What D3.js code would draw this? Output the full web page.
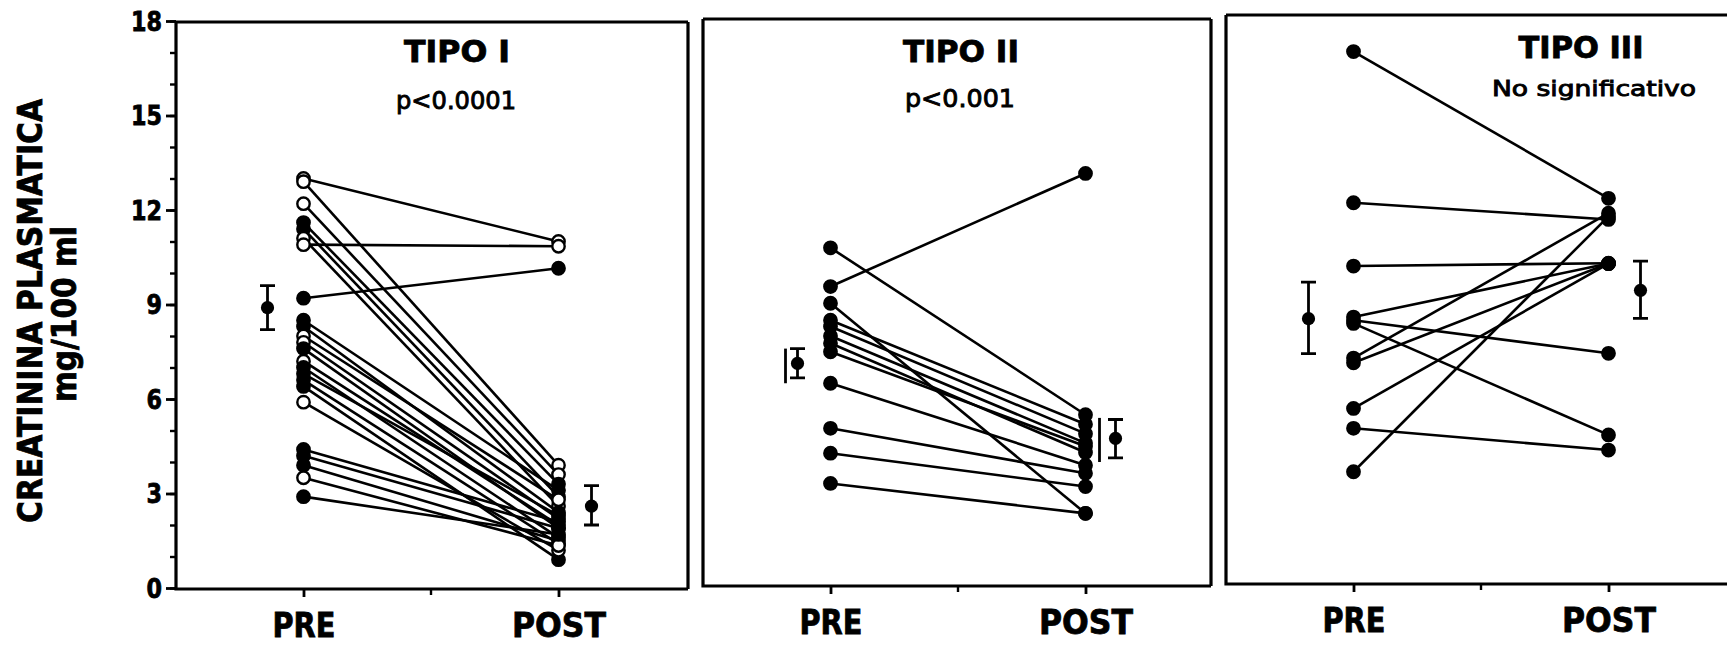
<!DOCTYPE html>
<html>
<head>
<meta charset="utf-8">
<script src="https://cdn.jsdelivr.net/npm/d3@7"></script>
<style>
  html, body { margin: 0; padding: 0; background: #fff; }
  svg { display: block; }
</style>
</head>
<body>
<svg id="chart" width="1727" height="645"></svg>
<script>
// ---------- data ----------
const categories = ["PRE", "POST"];
const yTicks = [0, 3, 6, 9, 12, 15, 18];
const panelTitles = ["TIPO I", "TIPO II", "TIPO III"];
const panelNotes = ["p<0.0001", "p<0.001", "No significativo"];
const yTitle = ["CREATININA PLASMATICA", "mg/100 ml"];

// Tipo I: paired values per patient, "o" = open marker, "f" = filled marker
const tipo1Pre  = [13.0, 12.9, 12.2, 11.6, 11.4, 11.1, 10.9, 9.2, 8.5, 8.3, 8.0, 7.8, 7.6, 7.2, 7.0, 6.8, 6.6, 6.4, 5.9, 4.4, 4.2, 3.9, 3.5, 2.9];
const tipo1Post = [11.0, 3.9, 3.6, 3.3, 2.9, 2.6, 10.85, 10.15, 3.1, 2.4, 2.8, 2.2, 1.9, 2.0, 1.6, 2.3, 1.4, 0.9, 1.2, 2.1, 1.9, 1.5, 1.35, 1.7];
const tipo1Kind = ["o", "o", "o", "f", "f", "o", "o", "f", "f", "f", "o", "o", "f", "o", "f", "f", "f", "f", "o", "f", "f", "f", "o", "f"];

// Tipo II
const tipo2Pre  = [10.8, 9.57, 9.04, 8.5, 8.3, 8.0, 7.77, 7.5, 6.5, 5.07, 4.28, 3.32];
const tipo2Post = [5.5, 13.16, 2.37, 5.2, 4.9, 4.6, 4.3, 4.5, 3.9, 3.64, 3.22, 2.37];

// Tipo III
const tipo3Pre  = [17.03, 12.23, 10.22, 8.6, 8.5, 8.4, 7.3, 7.15, 5.7, 5.07, 3.69];
const tipo3Post = [12.37, 11.7, 10.31, 10.3, 7.45, 4.86, 11.9, 10.3, 10.3, 4.38, 11.8];

// group means with error bars (one entry per panel)
const meanPre      = [8.9, 7.13, 8.55];
const meanPreLow   = [8.2, 6.67, 7.44];
const meanPreHigh  = [9.6, 7.6, 9.71];
const meanPost     = [2.6, 4.75, 9.45];
const meanPostLow  = [2.0, 4.13, 8.56];
const meanPostHigh = [3.25, 5.35, 10.38];

// Tipo II: range bars drawn beside the means
const tipo2RangePre  = [6.5, 7.6];
const tipo2RangePost = [4.0, 5.4];

// ---------- layout ----------
const svg = d3.select("#chart");
const FONT = "'DejaVu Sans', 'Liberation Sans', sans-serif";
const INK = 2.6;

const panels = [
  { left: 176, right: 688,  top: 22, bottom: 589, meanDx: [-36, 33], pre: tipo1Pre, post: tipo1Post, kind: tipo1Kind,
    titleY: 62, noteY: 109, titleW: 106, noteW: 120, titleX: 457, noteX: 456, noteSize: 24 },
  { left: 703, right: 1211, top: 19, bottom: 586, meanDx: [-33, 30], pre: tipo2Pre, post: tipo2Post, kind: null,
    titleY: 62, noteY: 107, titleW: 116, noteW: 110, titleX: 961, noteX: 960, noteSize: 24 },
  { left: 1226, right: 1740, top: 15, bottom: 584, meanDx: [-45, 32], pre: tipo3Pre, post: tipo3Post, kind: null,
    titleY: 58, noteY: 96, titleW: 125, noteW: 204, titleX: 1581, noteX: 1594, noteSize: 21 }
];

const y = d3.scaleLinear().domain([0, 18]).range([588, 21]);

function fit(sel, w) {
  return sel.attr("textLength", w).attr("lengthAdjust", "spacingAndGlyphs");
}
function heavy(sel, s) {
  return sel.attr("stroke", "#000").attr("stroke-width", s).attr("paint-order", "stroke");
}

// ---------- y axis (shared, drawn on the first panel) ----------
const yAxisG = svg.append("g").attr("transform", "translate(176,0)");
yAxisG.append("g")
  .call(d3.axisLeft(y).tickValues(d3.range(0, 19)).tickSize(6).tickSizeOuter(0).tickFormat(""))
  .call(g => g.select(".domain").remove())
  .selectAll("line").attr("stroke", "#000").attr("stroke-width", 2.4);
yAxisG.append("g")
  .call(d3.axisLeft(y).tickValues(yTicks).tickSize(10).tickPadding(4).tickSizeOuter(0))
  .call(g => g.select(".domain").remove())
  .call(g => g.selectAll("line").attr("stroke", "#000").attr("stroke-width", 2.8))
  .call(g => g.selectAll("text")
    .attr("font-family", FONT).attr("font-weight", "bold").attr("font-size", 26)
    .attr("fill", "#000").attr("dy", "0.36em")
    .call(heavy, 0.8)
    .each(function (d) { fit(d3.select(this), String(d).length * 15.5); }));

// y axis title
svg.append("text")
  .attr("transform", "translate(42,311) rotate(-90)")
  .attr("text-anchor", "middle").attr("font-family", FONT).attr("font-weight", "bold")
  .attr("font-size", 34).text(yTitle[0])
  .call(heavy, 0.8)
  .call(fit, 424);
svg.append("text")
  .attr("transform", "translate(76,314) rotate(-90)")
  .attr("text-anchor", "middle").attr("font-family", FONT).attr("font-weight", "bold")
  .attr("font-size", 33).text(yTitle[1])
  .call(heavy, 0.8)
  .call(fit, 176);

// ---------- panels ----------
panels.forEach((p, i) => {
  const g = svg.append("g");
  const x = d3.scalePoint().domain(categories).range([p.left, p.left + 510]).padding(0.5);

  // frame
  g.append("path")
    .attr("d", `M${p.left},${p.top}H${p.right}M${p.left},${p.top}V${p.bottom}H${p.right}` + (i < 2 ? `M${p.right},${p.top}V${p.bottom}` : ""))
    .attr("fill", "none").attr("stroke", "#000").attr("stroke-width", 3.2);

  // x axis ticks and labels
  const xAxis = g.append("g").attr("transform", `translate(0,${p.bottom})`)
    .call(d3.axisBottom(x).tickSize(8).tickPadding(17).tickSizeOuter(0));
  xAxis.select(".domain").remove();
  xAxis.selectAll("line").attr("stroke", "#000").attr("stroke-width", 2.8);
  xAxis.selectAll("text")
    .attr("font-family", FONT).attr("font-weight", "bold").attr("font-size", 33).attr("fill", "#000")
    .call(heavy, 0.8)
    .each(function (d) { fit(d3.select(this), d === "PRE" ? 63 : 94); });
  const mid = (x("PRE") + x("POST")) / 2;
  g.append("line").attr("x1", mid).attr("x2", mid).attr("y1", p.bottom).attr("y2", p.bottom + 6)
    .attr("stroke", "#000").attr("stroke-width", 2.4);

  // titles
  g.append("text").attr("x", p.titleX).attr("y", p.titleY).attr("text-anchor", "middle")
    .attr("font-family", FONT).attr("font-weight", "bold").attr("font-size", 30)
    .text(panelTitles[i]).call(heavy, 0.8).call(fit, p.titleW);
  g.append("text").attr("x", p.noteX).attr("y", p.noteY).attr("text-anchor", "middle")
    .attr("font-family", FONT).attr("font-size", p.noteSize)
    .text(panelNotes[i]).call(heavy, 0.9).call(fit, p.noteW);

  // paired lines
  const rows = p.pre.map((v, k) => ({ pre: v, post: p.post[k], kind: p.kind ? p.kind[k] : "f" }));
  const line = d3.line().x(d => x(d[0])).y(d => y(d[1]));
  g.append("g").selectAll("path").data(rows).join("path")
    .attr("d", d => line([["PRE", d.pre], ["POST", d.post]]))
    .attr("fill", "none").attr("stroke", "#000").attr("stroke-width", INK);

  // markers
  const pts = rows.flatMap(d => [{ c: "PRE", v: d.pre, kind: d.kind }, { c: "POST", v: d.post, kind: d.kind }]);
  g.append("g").selectAll("circle").data(pts).join("circle")
    .attr("cx", d => x(d.c)).attr("cy", d => y(d.v)).attr("r", 6.2)
    .attr("fill", d => d.kind === "o" ? "#fff" : "#000")
    .attr("stroke", "#000").attr("stroke-width", 2.4);

  // means with error bars
  const means = [
    { c: "PRE", dx: p.meanDx[0], m: meanPre[i], lo: meanPreLow[i], hi: meanPreHigh[i] },
    { c: "POST", dx: p.meanDx[1], m: meanPost[i], lo: meanPostLow[i], hi: meanPostHigh[i] }
  ];
  const mg = g.append("g").selectAll("g").data(means).join("g")
    .attr("transform", d => `translate(${x(d.c) + d.dx},0)`);
  mg.append("line").attr("y1", d => y(d.lo)).attr("y2", d => y(d.hi))
    .attr("stroke", "#000").attr("stroke-width", 2.8);
  mg.append("path")
    .attr("d", d => `M-7.5,${y(d.lo)}H7.5M-7.5,${y(d.hi)}H7.5`)
    .attr("stroke", "#000").attr("stroke-width", 2.8);
  mg.append("circle").attr("cy", d => y(d.m)).attr("r", 6.6).attr("fill", "#000");

  // Tipo II range bars
  if (i === 1) {
    const rb = [{ c: "PRE", dx: p.meanDx[0] - 12, r: tipo2RangePre }, { c: "POST", dx: p.meanDx[1] - 16, r: tipo2RangePost }];
    g.append("g").selectAll("line").data(rb).join("line")
      .attr("x1", d => x(d.c) + d.dx).attr("x2", d => x(d.c) + d.dx)
      .attr("y1", d => y(d.r[0])).attr("y2", d => y(d.r[1]))
      .attr("stroke", "#000").attr("stroke-width", 2.8);
  }
});
</script>
</body>
</html>
